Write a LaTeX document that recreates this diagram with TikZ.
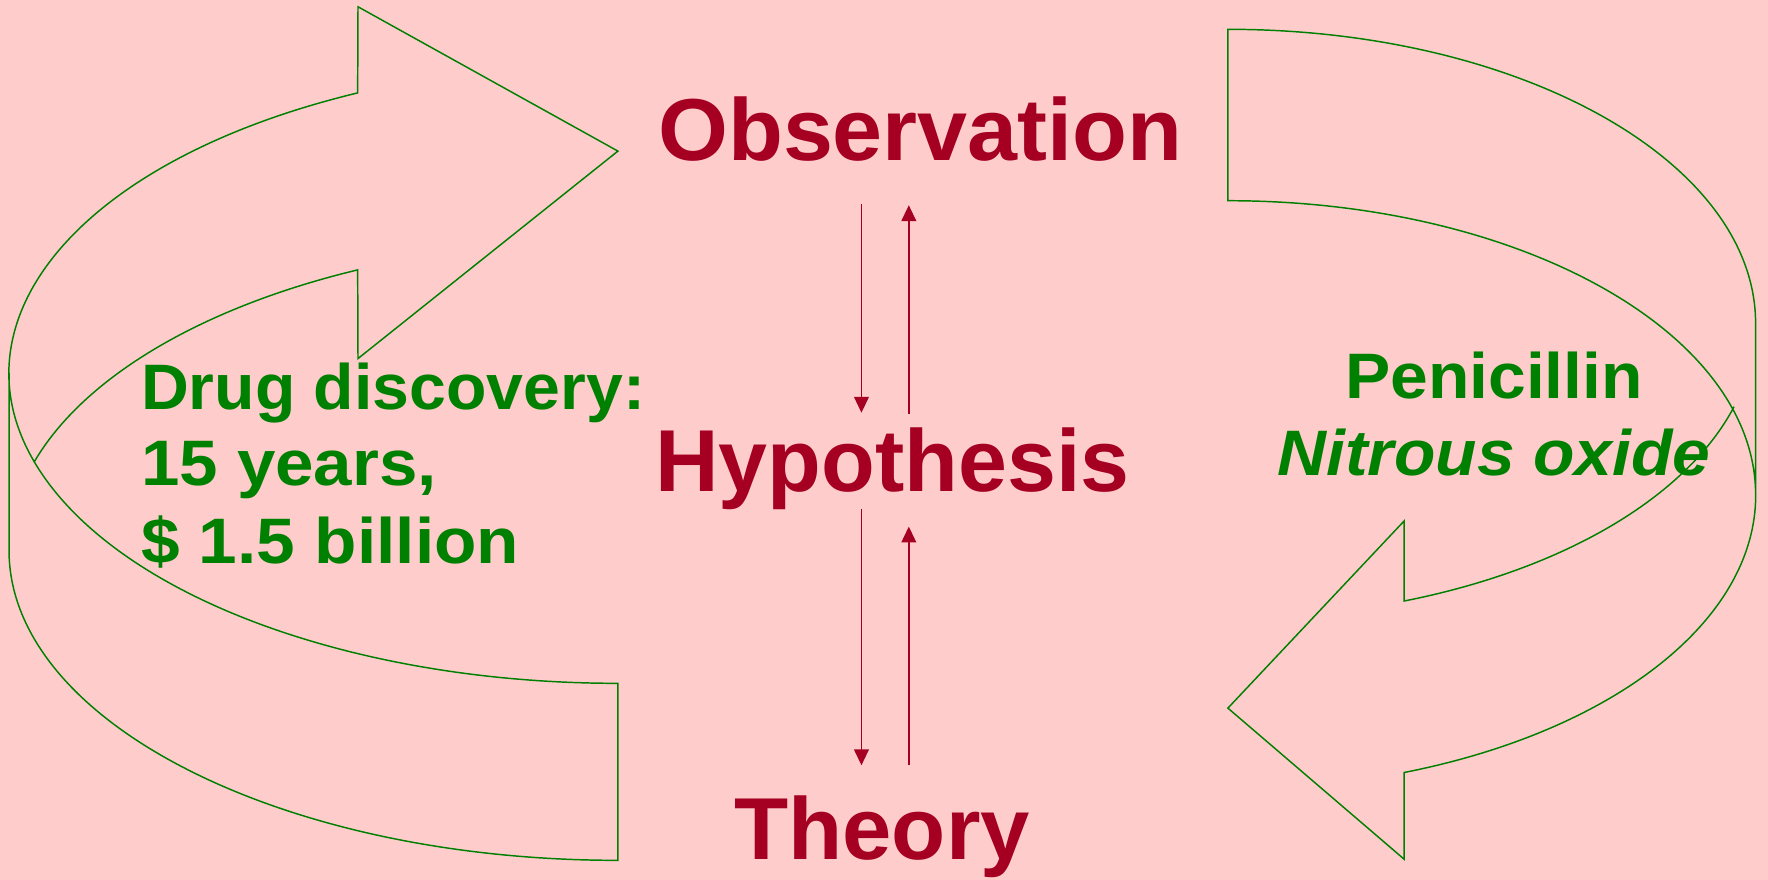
\documentclass[tikz,border=0pt]{standalone}
\usepackage{fontspec}
\usepackage{graphicx}
\setmainfont{Liberation Sans}
\usetikzlibrary{arrows.meta,calc}
\definecolor{bgpink}{HTML}{FFCCCC}
\definecolor{dred}{HTML}{A50021}
\definecolor{dgreen}{HTML}{008000}
\tikzset{
  redtxt/.style={text=dred, inner sep=0pt, font=\fontsize{78}{78}\selectfont\bfseries},
  greentxt/.style={text=dgreen, inner sep=0pt, font=\fontsize{57}{57}\selectfont\bfseries},
  gline/.style={draw=dgreen, line width=1.3pt, line join=miter},
  rarr/.style={draw=dred, line width=1.5pt, -{Triangle[width=13pt,length=14pt]}}
}
\begin{document}
\begin{tikzpicture}[x=1pt,y=-1pt]
\fill[bgpink] (0,0) rectangle (1568,780);
\useasboundingbox (0,0) rectangle (1568,780);

% left curved arrow
\draw[gline] (30.5,409.4) arc[start angle=196.6, end angle=244.7, x radius=540, y radius=275]
  -- (317.5,318) -- (548,134) -- (317.5,6) -- (317.2,82.4)
  arc[start angle=244.7, end angle=90, x radius=540, y radius=275]
  -- (548,763)
  arc[start angle=90, end angle=180, x radius=540, y radius=275]
  -- (8,331);

% right curved arrow
\draw[gline] (1537.9,360.7) arc[start angle=16.4, end angle=70.5, x radius=468, y radius=261]
  -- (1245.3,462) -- (1089,628) -- (1245.3,762) -- (1245.3,685.1)
  arc[start angle=70.5, end angle=0, x radius=468, y radius=261]
  -- (1557,287)
  arc[start angle=0, end angle=-90, x radius=468, y radius=261]
  -- (1089,178)
  arc[start angle=-90, end angle=0, x radius=468, y radius=261];

% red labels
\node[redtxt, anchor=base west] (obs) at (583.5,142) {\scalebox{1.022}[1]{Observation}};
\node[redtxt, anchor=base west] (hyp) at (581,436) {Hypothesis};
\node[redtxt, anchor=base west] (theo) at (651,762.7) {\scalebox{1.008}[1]{Theory}};

% green labels
\node[greentxt, anchor=base west] (drug1) at (125,363.6) {\scalebox{1.03}[1]{Drug discovery:}};
\node[greentxt, anchor=base west] (drug2) at (125,431) {\scalebox{1.075}[1]{15 years,}};
\node[greentxt, anchor=base west] (drug3) at (125,499.5) {\scalebox{1.08}[1]{\$ 1.5 billion}};
\node[greentxt, anchor=base] (pen) at (1325,353.3) {\scalebox{1.055}[1]{Penicillin}};
\node[greentxt, anchor=base] (nox) at (1325,422) {\scalebox{1.055}[1]{\itshape Nitrous oxide}};

% red arrows
\coordinate (lx) at (764,0);
\coordinate (rx) at (806,0);
\draw[rarr] ($(obs.base -| lx)+(0,39)$) -- ($(hyp.base -| lx)+(0,-70)$);
\draw[rarr] ($(hyp.base -| rx)+(0,-69)$) -- ($(obs.base -| rx)+(0,40)$);
\draw[rarr] ($(hyp.base -| lx)+(0,15)$) -- ($(theo.base -| lx)+(0,-84)$);
\draw[rarr] ($(theo.base -| rx)+(0,-84)$) -- ($(hyp.base -| rx)+(0,31)$);
\end{tikzpicture}
\end{document}
